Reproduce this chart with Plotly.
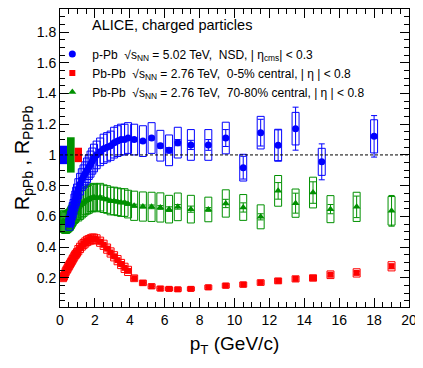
import plotly.graph_objects as go

# ---------------- data ----------------
# Pb-Pb bin centres (GeV/c)
pt_pbpb = [0.175, 0.225, 0.275, 0.325, 0.375, 0.425, 0.475, 0.525, 0.575, 0.625,
           0.675, 0.725, 0.775, 0.825, 0.875, 0.925, 0.975,
           1.05, 1.15, 1.25, 1.35, 1.45, 1.55, 1.65, 1.75, 1.85, 1.95,
           2.1, 2.3, 2.5, 2.7, 2.9, 3.1, 3.3, 3.5, 3.7, 3.9,
           4.25, 4.75, 5.25, 5.75, 6.25, 6.75, 7.5, 8.5, 9.5, 10.5, 11.5, 12.5,
           13.5, 14.5, 15.5, 17.0, 19.0]

# Pb-Pb 0-5% central
raa_central = [0.20, 0.21, 0.225, 0.24, 0.25, 0.26, 0.27, 0.28, 0.29, 0.30,
               0.31, 0.32, 0.33, 0.34, 0.35, 0.355, 0.365,
               0.38, 0.395, 0.41, 0.42, 0.43, 0.44, 0.445, 0.45, 0.455, 0.455,
               0.45, 0.435, 0.415, 0.39, 0.365, 0.34, 0.315, 0.29, 0.265, 0.245,
               0.197, 0.167, 0.145, 0.13, 0.128, 0.125, 0.128, 0.138, 0.149, 0.156,
               0.169, 0.18, 0.193, 0.199, 0.22, 0.232, 0.275]
raa_central_stat = [0.002] * 17 + [0.002] * 10 + [0.002] * 10 + \
                   [0.002, 0.002, 0.002, 0.002, 0.002, 0.002, 0.002, 0.003, 0.003, 0.004,
                    0.005, 0.006, 0.007, 0.008, 0.009, 0.01, 0.015]
raa_central_syst = [0.025] * 17 + [0.03] * 10 + [0.03] * 10 + \
                   [0.022, 0.018, 0.016, 0.015, 0.014, 0.014, 0.014, 0.015, 0.016, 0.017,
                    0.018, 0.019, 0.02, 0.021, 0.025, 0.027, 0.03]

# Pb-Pb 70-80% central
raa_periph = [0.57, 0.565, 0.56, 0.56, 0.56, 0.565, 0.57, 0.575, 0.58, 0.59,
              0.60, 0.61, 0.62, 0.625, 0.63, 0.64, 0.65,
              0.66, 0.67, 0.68, 0.69, 0.70, 0.705, 0.71, 0.72, 0.72, 0.725,
              0.72, 0.725, 0.715, 0.71, 0.70, 0.70, 0.695, 0.69, 0.69, 0.68,
              0.669, 0.664, 0.662, 0.658, 0.647, 0.662, 0.647, 0.645, 0.684, 0.658,
              0.597, 0.766, 0.686, 0.755, 0.647, 0.662, 0.636]
raa_periph_stat = [0.005] * 17 + [0.008] * 10 + [0.008] * 10 + \
                  [0.01, 0.01, 0.012, 0.012, 0.015, 0.015, 0.02, 0.012, 0.027, 0.03,
                   0.02, 0.054, 0.065, 0.07, 0.03, 0.07, 0.1]
raa_periph_syst = [0.07] * 17 + [0.09] * 10 + [0.09] * 10 + \
                  [0.095, 0.095, 0.095, 0.095, 0.09, 0.09, 0.09, 0.08, 0.089, 0.084,
                   0.078, 0.1, 0.092, 0.1, 0.088, 0.095, 0.093]

# p-Pb NSD
pt_ppb = [0.525, 0.575, 0.625, 0.675, 0.725, 0.775, 0.825, 0.875, 0.925, 0.975,
          1.05, 1.15, 1.25, 1.35, 1.45, 1.55, 1.65, 1.75, 1.85, 1.95,
          2.1, 2.3, 2.5, 2.7, 2.9, 3.1, 3.3, 3.5, 3.7, 3.9,
          4.25, 4.75, 5.25, 5.75, 6.25, 6.75, 7.5, 8.5, 9.5, 10.5, 11.5, 12.5,
          13.5, 15.0, 18.0]
rppb = [0.55, 0.57, 0.59, 0.62, 0.64, 0.66, 0.69, 0.71, 0.73, 0.75,
        0.78, 0.81, 0.84, 0.86, 0.88, 0.90, 0.92, 0.94, 0.96, 0.98,
        1.00, 1.02, 1.04, 1.05, 1.06, 1.08, 1.09, 1.10, 1.10, 1.11,
        1.10, 1.09, 1.11, 1.06, 1.03, 1.08, 1.065, 1.065, 1.11, 0.917,
        1.145, 1.063, 1.171, 0.955, 1.121]
rppb_stat = [0.003] * 30 + \
            [0.01, 0.01, 0.012, 0.015, 0.018, 0.02, 0.03, 0.035, 0.055, 0.074,
             0.087, 0.1, 0.14, 0.117, 0.135]
rppb_syst = [0.04, 0.04, 0.045, 0.045, 0.05, 0.05, 0.055, 0.055, 0.06, 0.06,
             0.065, 0.07, 0.07, 0.075, 0.075, 0.08, 0.08, 0.085, 0.085, 0.09,
             0.09, 0.09, 0.095, 0.095, 0.095, 0.1, 0.1, 0.1, 0.1, 0.1,
             0.1, 0.1, 0.1, 0.1, 0.1, 0.1, 0.1, 0.1, 0.103, 0.087,
             0.106, 0.104, 0.106, 0.088, 0.108]

# normalisation uncertainties (drawn at R = 1): p-Pb, 70-80%, 0-5%
norm_unc = [0.06, 0.115, 0.047]
norm_pt_lo = [0.0, 0.4, 0.84]
norm_pt_hi = [0.4, 0.84, 1.26]

x_ticks = [0, 2, 4, 6, 8, 10, 12, 14, 16, 18, 20]
y_tickvals = [0.2, 0.4, 0.6, 0.8, 1.0, 1.2, 1.4, 1.6, 1.8]
y_ticktext = ["0.2", "0.4", "0.6", "0.8", "1", "1.2", "1.4", "1.6", "1.8"]

# ---------------- style ----------------
BLUE = "#0000ff"
RED = "#ff0000"
GREEN = "#009000"
FONT = "Liberation Sans, Arial, Helvetica, sans-serif"
HW = 0.2  # half width of systematic boxes


def boxes(xs, ys, es):
    bx, by = [], []
    for x, y, e in zip(xs, ys, es):
        bx += [x - HW, x + HW, x + HW, x - HW, x - HW, None]
        by += [y - e, y - e, y + e, y + e, y - e, None]
    return bx, by


fig = go.Figure()

series = [
    (pt_pbpb, raa_central, raa_central_stat, raa_central_syst, RED, "square", 6,
     "Pb-Pb  √s<sub>NN</sub> = 2.76 TeV,  0-5% central, | η | < 0.8"),
    (pt_pbpb, raa_periph, raa_periph_stat, raa_periph_syst, GREEN, "triangle-up", 7,
     "Pb-Pb  √s<sub>NN</sub> = 2.76 TeV,  70-80% central, | η | < 0.8"),
    (pt_ppb, rppb, rppb_stat, rppb_syst, BLUE, "circle", 7,
     "p-Pb  √s<sub>NN</sub> = 5.02 TeV,  NSD, | η<sub>cms</sub>| < 0.3"),
]
legend_rank = {BLUE: 1, RED: 2, GREEN: 3}

for xs, ys, st, sy, col, sym, size, name in series:
    bx, by = boxes(xs, ys, sy)
    fig.add_trace(go.Scatter(x=bx, y=by, mode="lines", line=dict(color=col, width=1),
                             showlegend=False, hoverinfo="skip"))
    fig.add_trace(go.Scatter(
        x=xs, y=ys, mode="markers", name=name,
        marker=dict(color=col, symbol=sym, size=size, line=dict(width=0)),
        error_y=dict(type="data", array=st, color=col, thickness=1, width=3),
        legendrank=legend_rank[col]))

# normalisation boxes
for lo, hi, u, col in zip(norm_pt_lo, norm_pt_hi, norm_unc, [BLUE, GREEN, RED]):
    fig.add_shape(type="rect", xref="x", yref="y", x0=lo, x1=hi, y0=1 - u, y1=1 + u,
                  fillcolor=col, line=dict(width=0), layer="above")

# reference line at 1
fig.add_shape(type="line", xref="paper", yref="y", x0=0, x1=1, y0=1, y1=1,
              line=dict(color="black", width=1, dash="3px,2px"), layer="above")

fig.add_annotation(text="ALICE, charged particles", xref="paper", yref="paper",
                   x=0.085, y=0.945, xanchor="left", yanchor="middle", showarrow=False,
                   font=dict(family=FONT, size=14.5, color="black"))

axis_common = dict(showline=True, linecolor="black", linewidth=1, mirror="allticks",
                   ticks="inside", ticklen=9, tickcolor="black", showgrid=False,
                   zeroline=False, automargin=False,
                   tickfont=dict(family=FONT, size=14, color="black"))

# the page body adds an 8 px offset, so the figure is 8 px smaller than the window
fig.update_layout(
    width=415, height=360,
    margin=dict(l=52, r=14, t=1, b=61),
    paper_bgcolor="white", plot_bgcolor="white",
    font=dict(family=FONT, color="black"),
    showlegend=True,
    legend=dict(x=-0.022, y=0.898, xanchor="left", yanchor="top",
                bgcolor="rgba(0,0,0,0)", font=dict(family=FONT, size=12, color="black"),
                itemwidth=30, tracegroupgap=0),
    xaxis=dict(range=[0, 20], tickvals=x_ticks,
               minor=dict(dtick=0.5, ticks="inside", ticklen=5, tickcolor="black"),
               title=dict(text="p<sub>T</sub> (GeV/c)", font=dict(family=FONT, size=19),
                          standoff=9),
               **axis_common),
    yaxis=dict(range=[0.01, 1.95], tickvals=y_tickvals, ticktext=y_ticktext,
               minor=dict(dtick=0.05, ticks="inside", ticklen=5, tickcolor="black"),
               title=dict(text="R<sub>pPb</sub> , R<sub>PbPb</sub>",
                          font=dict(family=FONT, size=20), standoff=1),
               **axis_common),
)

fig.write_html("out.html")
